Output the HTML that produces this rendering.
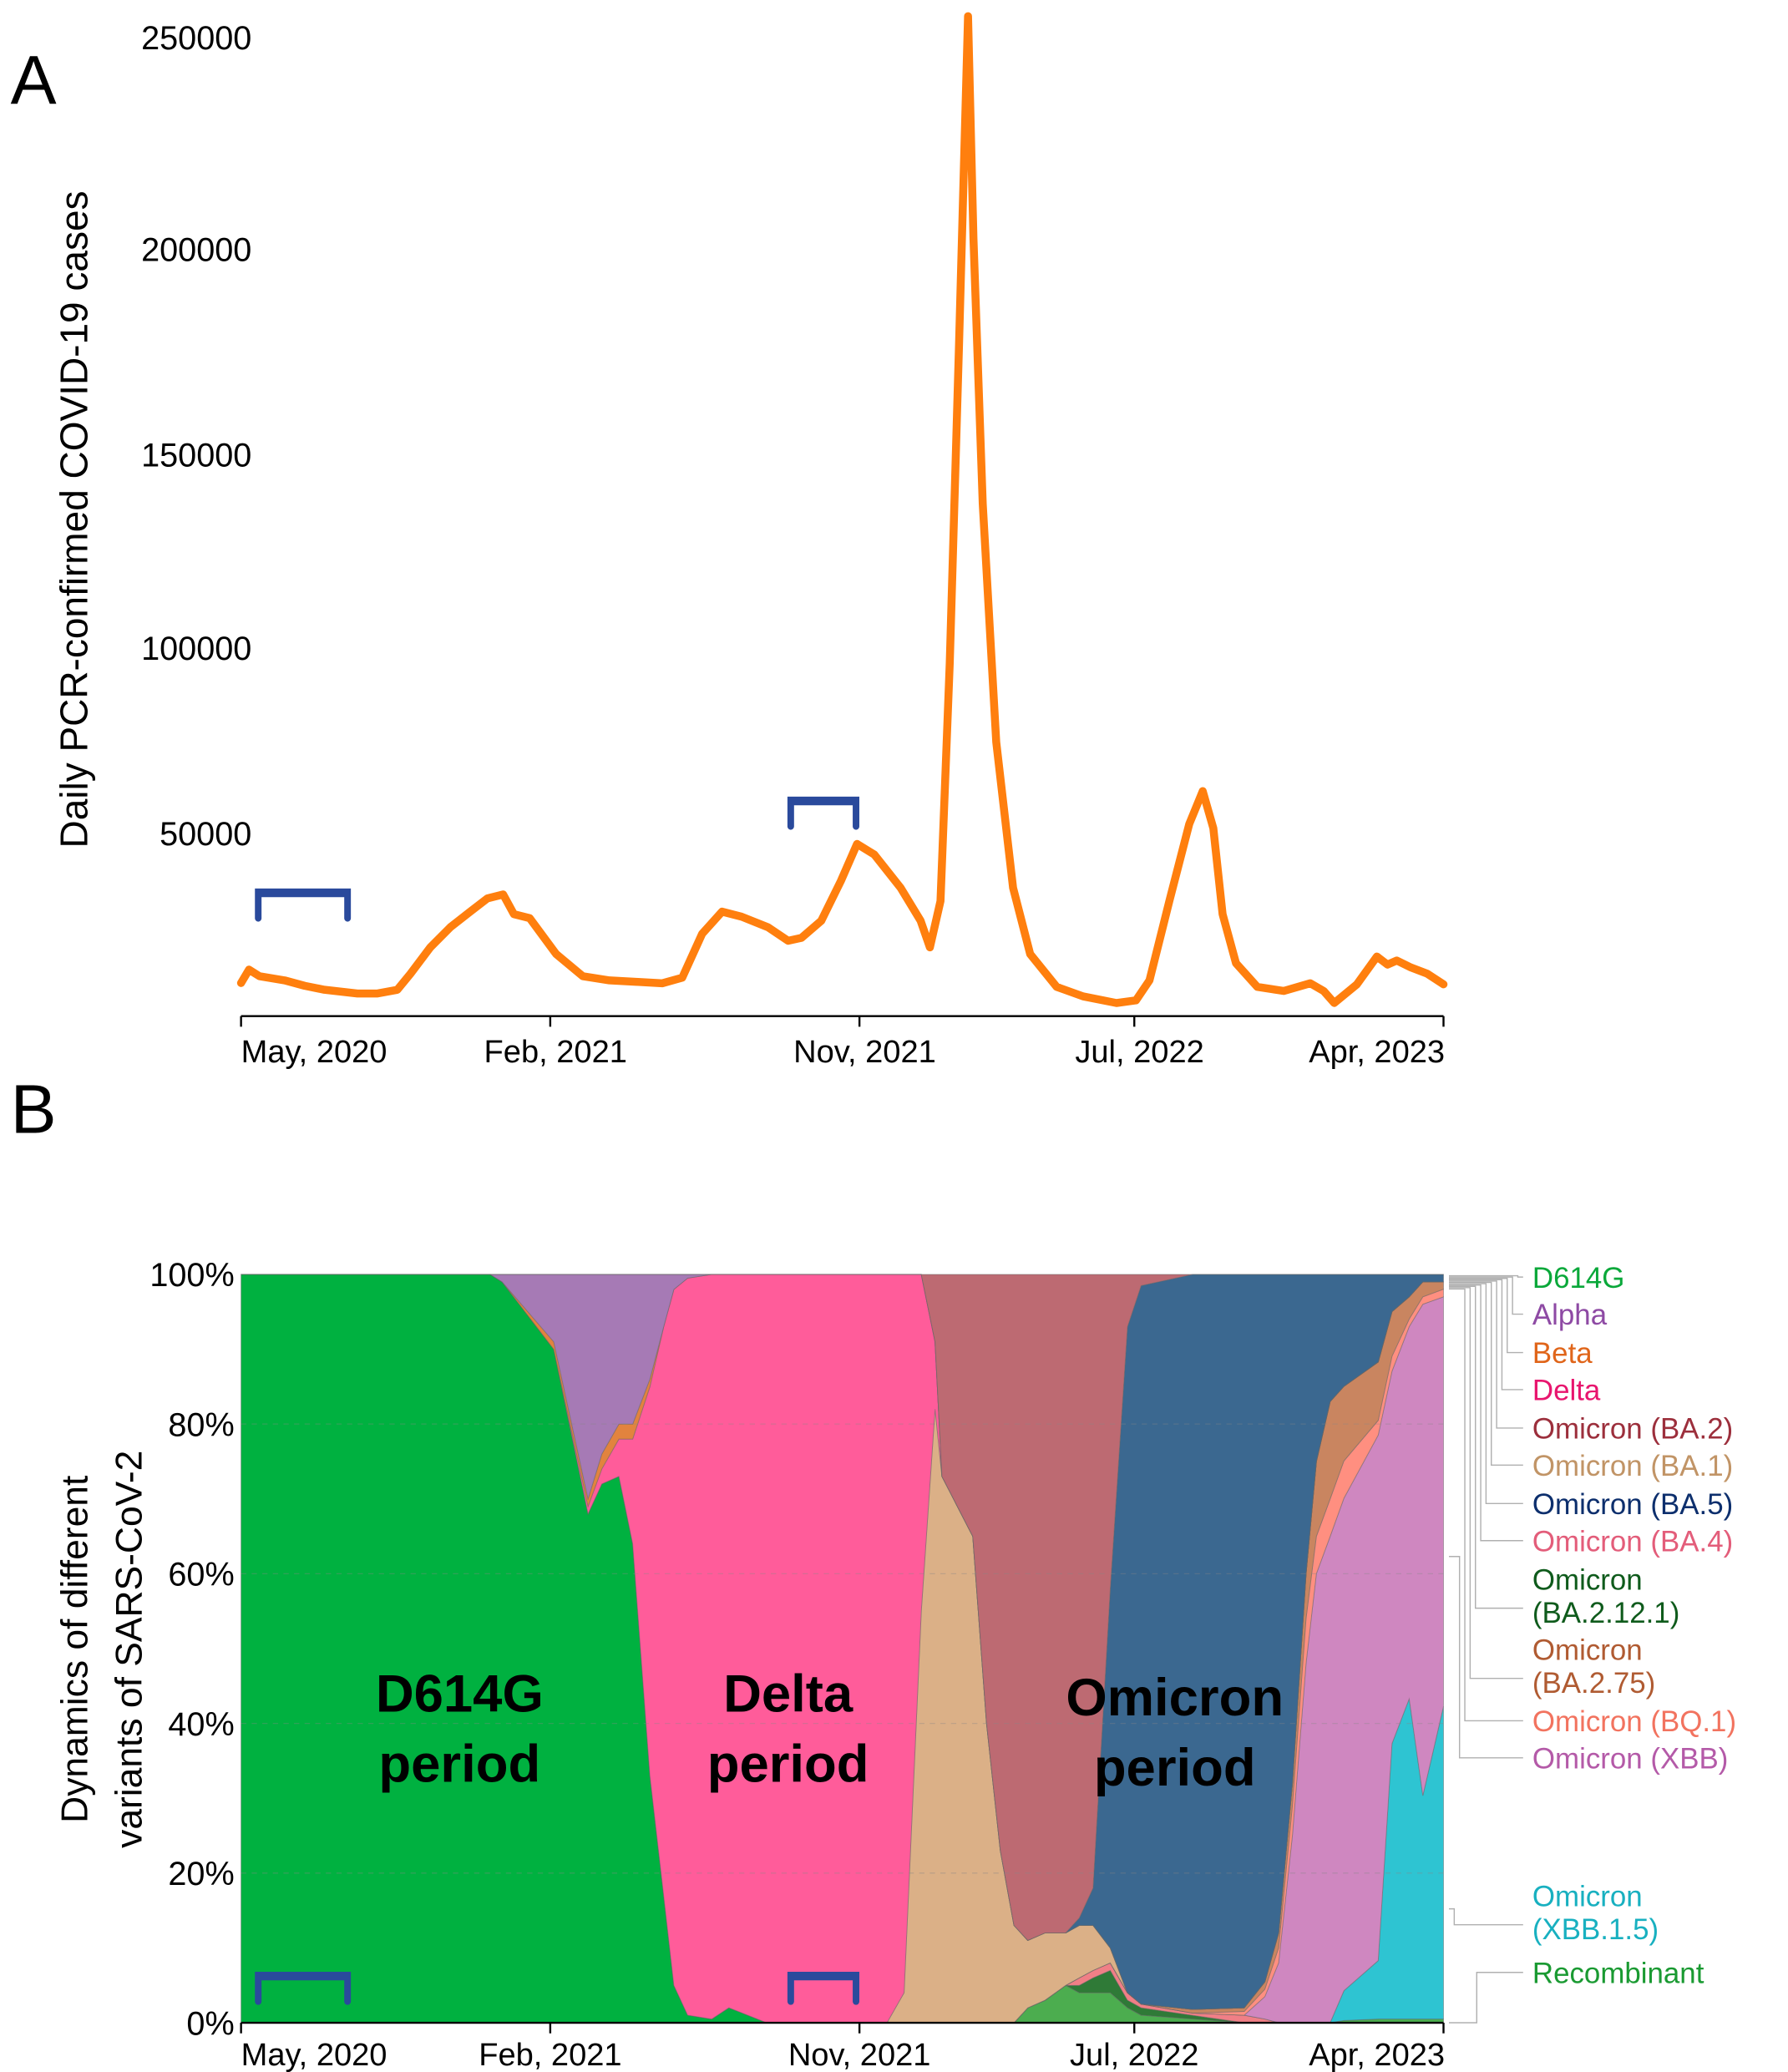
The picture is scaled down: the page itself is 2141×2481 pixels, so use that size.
<!DOCTYPE html>
<html><head><meta charset="utf-8"><style>
html,body{margin:0;padding:0;background:#fff;}
svg{display:block;font-family:"Liberation Sans",Arial,sans-serif;}
</style></head><body>
<svg id="fig" width="2141" height="2481" viewBox="0 0 1350 1564" xmlns="http://www.w3.org/2000/svg">
<text x="8" y="78" font-size="52">A</text>
<text x="8" y="855" font-size="52">B</text>
<text transform="translate(66,392) rotate(-90)" text-anchor="middle" font-size="29">Daily PCR-confirmed COVID-19 cases</text>
<text transform="translate(66,1245) rotate(-90)" text-anchor="middle" font-size="28">Dynamics of different</text>
<text transform="translate(107,1245) rotate(-90)" text-anchor="middle" font-size="28">variants of SARS-CoV-2</text>
<g id="gA"></g>
<g id="gB"></g>
</svg>
<script>
// ---------- Panel A data ----------
const caseMonths = [0,0.23,0.54,1.27,1.85,2.43,3.39,3.97,4.55,4.93,5.51,6.09,6.67,7.17,7.63,7.94,8.4,9.17,9.95,10.72,11.49,12.26,12.84,13.42,14.0,14.57,15.34,15.92,16.31,16.89,17.46,17.93,18.43,19.2,19.78,20.05,20.36,20.63,20.9,21.16,21.32,21.59,21.98,22.47,22.97,23.74,24.51,25.48,26.05,26.44,27.02,27.6,27.99,28.3,28.57,28.96,29.58,30.35,31.12,31.51,31.82,32.48,33.06,33.37,33.64,34.03,34.53,35.0];
const caseValues = [9060,12700,10900,9800,8300,7200,6200,6200,7200,11600,18800,24300,28600,32200,33300,27900,26800,17000,10900,9800,9400,9000,10500,22500,28600,27200,24300,20600,21400,26100,37000,47100,44200,35100,26100,18800,31500,96000,176800,255000,202500,137300,74600,35100,17000,8000,5400,3600,4300,9800,31500,52500,61400,51400,27900,14500,8000,6900,9000,6900,3600,8700,16300,14100,15200,13400,11600,8700];
const caseTickValues = [0,50000,100000,150000,200000,250000];
const caseTickLabels = ["","50000","100000","150000","200000","250000"];
const monthTicks = [0,9,18,26,35];
const monthTickLabels = ["May, 2020","Feb, 2021","Nov, 2021","Jul, 2022","Apr, 2023"];
const bracketMonthsA = [[0.5,3.1],[16.0,17.9]];
const bracketValuesA = [34000, 59000];

// ---------- Panel B data ----------
const variantNames = ["Recombinant","Omicron (BA.2.12.1)","Omicron (BA.4)","Omicron (XBB.1.5)","Omicron (XBB)","Omicron (BQ.1)","Omicron (BA.2.75)","D614G","Omicron (BA.1)","Delta","Beta","Alpha","Omicron (BA.5)","Omicron (BA.2)"];
const variantMonths = [0,7.25,7.6,9.1,10.1,10.5,11.0,11.4,11.9,12.3,12.6,13.0,13.7,14.2,15.3,18.8,19.3,19.8,20.2,20.4,21.3,21.7,22.1,22.5,22.9,23.4,24.0,24.4,24.8,25.3,25.8,26.2,27.7,29.2,29.8,30.2,30.6,31.0,31.3,31.7,32.1,33.1,33.5,34.0,34.4,35.0];
const pRecomb  = [0,0,0,0,0,0,0,0,0,0,0,0,0,0,0,0,0,0,0,0,0,0,0,0,2,3,5,4,4,4,2,1,0.5,0,0,0,0,0,0,0,0.3,0.5,0.5,0.5,0.5,0.5];
const pBA2121  = [0,0,0,0,0,0,0,0,0,0,0,0,0,0,0,0,0,0,0,0,0,0,0,0,0,0,0,1,2,3,1,1,0.5,0,0,0,0,0,0,0,0,0,0,0,0,0];
const pBA4     = [0,0,0,0,0,0,0,0,0,0,0,0,0,0,0,0,0,0,0,0,0,0,0,0,0,0,0,1,1,1,1,0.5,0.3,1,0.5,0,0,0,0,0,0,0,0,0,0,0];
const pXBB15   = [0,0,0,0,0,0,0,0,0,0,0,0,0,0,0,0,0,0,0,0,0,0,0,0,0,0,0,0,0,0,0,0,0,0,0,0,0,0,0,0,4,8,37,43,30,42];
const pXBB     = [0,0,0,0,0,0,0,0,0,0,0,0,0,0,0,0,0,0,0,0,0,0,0,0,0,0,0,0,0,0,0,0,0,0,3,8,25,48,60,65,66,72,50,50,66,55];
const pBQ1     = [0,0,0,0,0,0,0,0,0,0,0,0,0,0,0,0,0,0,0,0,0,0,0,0,0,0,0,0,0,0,0,0,0,0.5,1,2,4,6,5,5,5,2,2,1,1,1];
const pBA275   = [0,0,0,0,0,0,0,0,0,0,0,0,0,0,0,0,0,0,0,0,0,0,0,0,0,0,0,0,0,0,0,0,0.5,0.5,1,2,3,6,10,13,10,8,6,3,2,1];
const pD614G   = [100,100,99,90,68,72,73,64,33,17,5,1,0.5,2,0,0,0,0,0,0,0,0,0,0,0,0,0,0,0,0,0,0,0,0,0,0,0,0,0,0,0,0,0,0,0,0];
const pBA1     = [0,0,0,0,0,0,0,0,0,0,0,0,0,0,0,0,4,55,82,73,65,40,23,13,9,9,7,7,6,2,0,0,0,0,0,0,0,0,0,0,0,0,0,0,0,0];
const pDelta   = [0,0,0,0,1,2,5,14,52,76,93,98.5,99.5,98,100,100,96,45,9,0,0,0,0,0,0,0,0,0,0,0,0,0,0,0,0,0,0,0,0,0,0,0,0,0,0,0];
const pBeta    = [0,0,0,1,1,2,2,2,1,0,0,0,0,0,0,0,0,0,0,0,0,0,0,0,0,0,0,0,0,0,0,0,0,0,0,0,0,0,0,0,0,0,0,0,0,0];
const pAlpha   = [0,0,1,9,30,24,20,20,14,7,2,0.5,0,0,0,0,0,0,0,0,0,0,0,0,0,0,0,0,0,0,0,0,0,0,0,0,0,0,0,0,0,0,0,0,0,0];
const pBA5     = [0,0,0,0,0,0,0,0,0,0,0,0,0,0,0,0,0,0,0,0,0,0,0,0,0,0,0,1,5,48,89,96,99,98,95,88,68,40,25,17,15,12,5,3,1,1];
const pBA2     = [0,0,0,0,0,0,0,0,0,0,0,0,0,0,0,0,0,0,9,27,35,60,77,87,89,88,88,86,82,42,7,1.5,0,0,0,0,0,0,0,0,0,0,0,0,0,0];
const variantShares = [pRecomb,pBA2121,pBA4,pXBB15,pXBB,pBQ1,pBA275,pD614G,pBA1,pDelta,pBeta,pAlpha,pBA5,pBA2];
const variantColors = ["#4cad4f","#2f7a37","#f07f86","#2ec4d2","#cf87c0","#ff8f80","#c98560","#00b140","#dbb087","#ff5c9a","#e2833e","#a67ab5","#3b6890","#bd6a72"];
const pctTicks = [0,20,40,60,80,100];
const pctTickLabels = ["0%","20%","40%","60%","80%","100%"];
const bracketMonthsB = [[0.5,3.1],[16.0,17.9]];

const NS="http://www.w3.org/2000/svg";
function mk(tag,attrs,parent,text){const e=document.createElementNS(NS,tag);for(const k in attrs)e.setAttribute(k,attrs[k]);if(text!==undefined)e.textContent=text;parent.appendChild(e);return e;}
const X0=182, PXM=25.94;
function xM(m){return X0+m*PXM;}
const yKnots=[767,629,489,343,188,28];
function yA(v){
  for(let i=0;i<caseTickValues.length-1;i++){
    const a=caseTickValues[i],b=caseTickValues[i+1];
    if(v<=b||i===caseTickValues.length-2){return yKnots[i]+(v-a)/(b-a)*(yKnots[i+1]-yKnots[i]);}
  }
}
function yB(p){return 1527-p*5.65;}

// ----- Panel A -----
const gA=document.getElementById('gA');
let ax=mk('line',{x1:xM(0),x2:xM(35),y1:767,y2:767,stroke:'#000','stroke-width':1.5},gA);


monthTicks.forEach((m,i)=>{
  const t=mk('line',{x1:xM(m),x2:xM(m),y1:767,y2:775,stroke:'#000','stroke-width':1.5},gA);
  
  
  const anchor=i===0?'start':(i===monthTicks.length-1?'end':'middle');
  const lx=i===0?xM(m):(i===monthTicks.length-1?xM(m)+1:xM(m)+4);
  const l=mk('text',{x:lx,y:802,'font-size':24,'text-anchor':anchor},gA,monthTickLabels[i]);
  
  
});
caseTickValues.forEach((v,i)=>{
  if(!caseTickLabels[i])return;
  const l=mk('text',{x:190,y:yA(v)+9,'font-size':25,'text-anchor':'end'},gA,caseTickLabels[i]);
  
  
});
let d='';
caseMonths.forEach((m,i)=>{d+=(i?'L':'M')+xM(m).toFixed(1)+','+yA(caseValues[i]).toFixed(1);});
const line=mk('path',{d:d,fill:'none',stroke:'#ff7f0e','stroke-width':6,'stroke-linejoin':'round','stroke-linecap':'round'},gA);


function bracket(g,m0,m1,ytop,name){
  const p=mk('path',{d:`M${xM(m0)},${ytop+20}V${ytop}H${xM(m1)}V${ytop+20}`,fill:'none',stroke:'#2a4a9c','stroke-width':5,'stroke-linecap':'round'},g);
  
  
  mk('line',{x1:xM(m0),x2:xM(m1),y1:ytop+1,y2:ytop+1,stroke:'#2a4a9c','stroke-width':6},g);
}
bracketMonthsA.forEach((b,i)=>bracket(gA,b[0],b[1],yA(bracketValuesA[i]),'sampling-period-bracket'));

// ----- Panel B -----
const gB=document.getElementById('gB');
const n=variantMonths.length;
const totals=variantMonths.map((_,j)=>variantShares.reduce((s,a)=>s+a[j],0));
let cum=new Array(n).fill(0);
variantShares.forEach((arr,k)=>{
  const lower=cum.slice();
  const upper=lower.map((c,j)=>c+arr[j]/totals[j]*100);
  let pd='';
  for(let j=0;j<n;j++)pd+=(j?'L':'M')+xM(variantMonths[j]).toFixed(1)+','+yB(upper[j]).toFixed(1);
  for(let j=n-1;j>=0;j--)pd+='L'+xM(variantMonths[j]).toFixed(1)+','+yB(lower[j]).toFixed(1);
  const a=mk('path',{d:pd+'Z',fill:variantColors[k],stroke:'#666','stroke-width':0.6,'stroke-opacity':0.5},gB);
  
  
  cum=upper;
});
pctTicks.forEach((p,i)=>{
  if(p>0&&p<100){const gl=mk('line',{x1:xM(0),x2:xM(35),y1:yB(p),y2:yB(p),stroke:'#888','stroke-width':0.8,'stroke-dasharray':'4,4','stroke-opacity':0.35},gB);
  
  }
  const l=mk('text',{x:177,y:yB(p)+9,'font-size':25,'text-anchor':'end'},gB,pctTickLabels[i]);
  
  
});
const axB=mk('line',{x1:xM(0),x2:xM(35),y1:1527,y2:1527,stroke:'#000','stroke-width':1.5},gB);


monthTicks.forEach((m,i)=>{
  const t=mk('line',{x1:xM(m),x2:xM(m),y1:1527,y2:1535,stroke:'#000','stroke-width':1.5},gB);
  
  
  const anchor=i===0?'start':(i===monthTicks.length-1?'end':'middle');
  const lx=i===0?xM(m):(i===monthTicks.length-1?xM(m)+1:xM(m));
  const l=mk('text',{x:lx,y:1559,'font-size':24,'text-anchor':anchor},gB,monthTickLabels[i]);
  
  
});
bracketMonthsB.forEach(b=>bracket(gB,b[0],b[1],1491,'sampling-period-bracket-b'));
[["D614G",347,1292],["period",347,1345],["Delta",595,1292],["period",595,1345],["Omicron",887,1295],["period",887,1348]].forEach(t=>{
  const e=mk('text',{x:t[1],y:t[2],'font-size':40,'font-weight':'bold','text-anchor':'middle'},gB,t[0]);
  
  
});
// legend: [lines, color, baseline y, anchor y on chart edge, elbow x]
const legend=[
 [["D614G"],"#0aa83a",972,963,1146],
 [["Alpha"],"#8e4aa4",1000,964,1142],
 [["Beta"],"#e0651a",1029,965,1138],
 [["Delta"],"#e8156e",1057,966,1134],
 [["Omicron (BA.2)"],"#9c2f3c",1086,967,1130],
 [["Omicron (BA.1)"],"#c19466",1114,968,1126],
 [["Omicron (BA.5)"],"#0d2f6d",1143,969,1122],
 [["Omicron (BA.4)"],"#e35d7a",1171,970,1118],
 [["Omicron","(BA.2.12.1)"],"#0f5b1c",1200,971,1114],
 [["Omicron","(BA.2.75)"],"#b05b32",1253,972,1110],
 [["Omicron (BQ.1)"],"#f2735f",1307,973,1106],
 [["Omicron (XBB)"],"#b45aa8",1335,1175,1102],
 [["Omicron","(XBB.1.5)"],"#18b0c0",1439,1441,1098],
 [["Recombinant"],"#1a9a32",1497,1527,1115]
];
legend.forEach((L,i)=>{
  const tx=1157, ty=L[2];
  const ly=L[0].length>1?ty+14:ty-8;
  const ex=L[4];
  const c=mk('polyline',{points:`1094,${L[3]} ${ex},${L[3]} ${ex},${ly} 1150,${ly}`,fill:'none',stroke:'#b0b0b0','stroke-width':0.9},gB);
  
  
  L[0].forEach((s,j)=>{
    const t=mk('text',{x:tx,y:ty+j*25,'font-size':22,fill:L[1]},gB,s);
    
    
  });
});
</script>
</body></html>
